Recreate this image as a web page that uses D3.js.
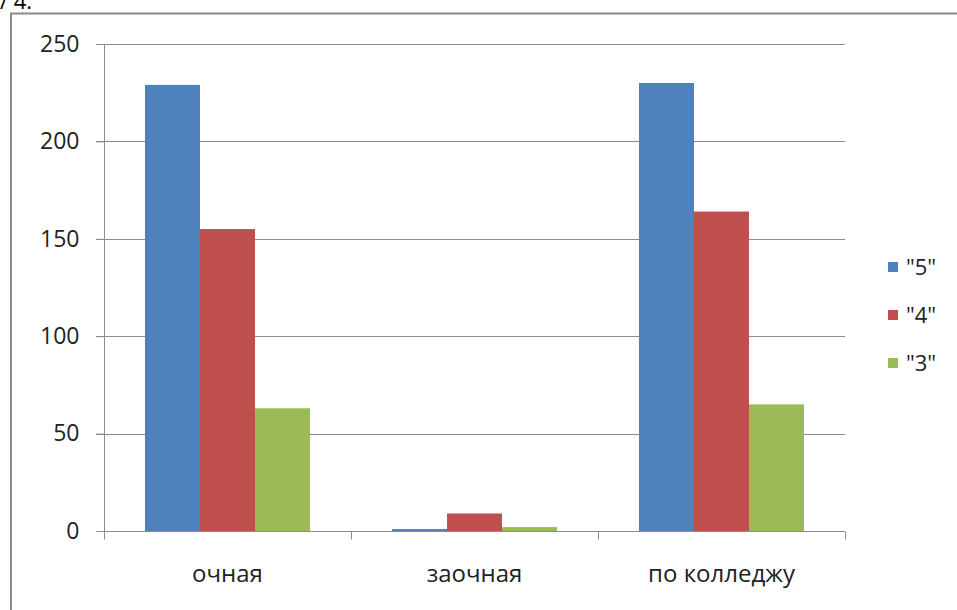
<!DOCTYPE html>
<html><head><meta charset="utf-8">
<script src="https://cdn.jsdelivr.net/npm/d3@7"></script>
<style>body{margin:0;background:#fff}svg{display:block}</style>
</head><body>
<script>
const categories = ["очная", "заочная", "по колледжу"];
const seriesNames = ['"5"', '"4"', '"3"'];
const values5 = [229, 1, 230];
const values4 = [155, 9, 164];
const values3 = [63, 2, 65];
const yTicks = [0, 50, 100, 150, 200, 250];
const colors = ["#4F81BD", "#C0504D", "#9BBB59"];

const W = 957, H = 610;
const svg = d3.select("body").append("svg").attr("width", W).attr("height", H);
const font = "'Open Sans', sans-serif";

// outer frame
svg.append("path").attr("d", `M11,${H} L11,13.5 L${W},13.5`).attr("fill","none").attr("stroke","#8a8a8a").attr("stroke-width",2);
svg.append("text").attr("x", 0).attr("y", 9).attr("font-family", font).attr("font-size", 22).attr("fill","#000").text("/ 4.");

const x0 = d3.scaleBand().domain(categories).range([104, 845]).paddingInner(0).paddingOuter(0);
const y = d3.scaleLinear().domain([0, 250]).range([531, 44]);

const data = categories.map((c, i) => ({c, v: [values5[i], values4[i], values3[i]]}));

// gridlines
svg.append("g").selectAll("line").data(yTicks.filter(t => t > 0)).join("line")
  .attr("x1", 96).attr("x2", 845).attr("y1", d => Math.round(y(d)) + 0.5).attr("y2", d => Math.round(y(d)) + 0.5)
  .attr("stroke", "#8c8c8c").attr("stroke-width", 1);

// bars
const groupW = 165, barW = groupW / 3;
svg.append("g").selectAll("g").data(data).join("g")
  .attr("transform", d => `translate(${x0(d.c) + x0.bandwidth()/2 - groupW/2},0)`)
  .selectAll("rect").data(d => d.v).join("rect")
  .attr("x", (d, j) => j * barW).attr("width", barW)
  .attr("y", d => y(d)).attr("height", d => y(0) - y(d))
  .attr("fill", (d, j) => colors[j]);

// y axis
const yAxis = d3.axisLeft(y).tickValues(yTicks).tickSize(8).tickPadding(17);
const gy = svg.append("g").attr("transform", "translate(104.5,0)").call(yAxis);
gy.select(".domain").attr("stroke", "#8c8c8c").attr("d", `M-8,${y(250)+0.5}H0V${y(0)+0.5}`);
gy.selectAll(".tick line").attr("stroke", "#8c8c8c");
gy.selectAll(".tick text").attr("font-family", font).attr("font-size", 23).attr("fill", "#222");

// x axis
const xAxis = d3.axisBottom(x0).tickSize(0).tickPadding(33);
const gx = svg.append("g").attr("transform", `translate(0,${Math.round(y(0))+0.5})`).call(xAxis);
gx.select(".domain").attr("stroke", "#8c8c8c").attr("d", `M104,0H845`);
gx.selectAll(".tick text").attr("font-family", font).attr("font-size", 24).attr("fill", "#222");
gx.append("g").selectAll("line").data([0,1,2,3]).join("line")
  .attr("x1", i => Math.round(104 + i * x0.bandwidth()) + 0.5).attr("x2", i => Math.round(104 + i * x0.bandwidth()) + 0.5)
  .attr("y1", 0).attr("y2", 8).attr("stroke", "#8c8c8c");

// legend
const lg = svg.append("g").selectAll("g").data(seriesNames).join("g")
  .attr("transform", (d, i) => `translate(888,${262 + i * 48})`);
lg.append("rect").attr("width", 10).attr("height", 10).attr("fill", (d, i) => colors[i]);
lg.append("text").attr("x", 18).attr("y", 5).attr("dy", "0.35em").attr("font-family", font).attr("font-size", 22).attr("fill", "#222").text(d => d);
</script>
</body></html>
